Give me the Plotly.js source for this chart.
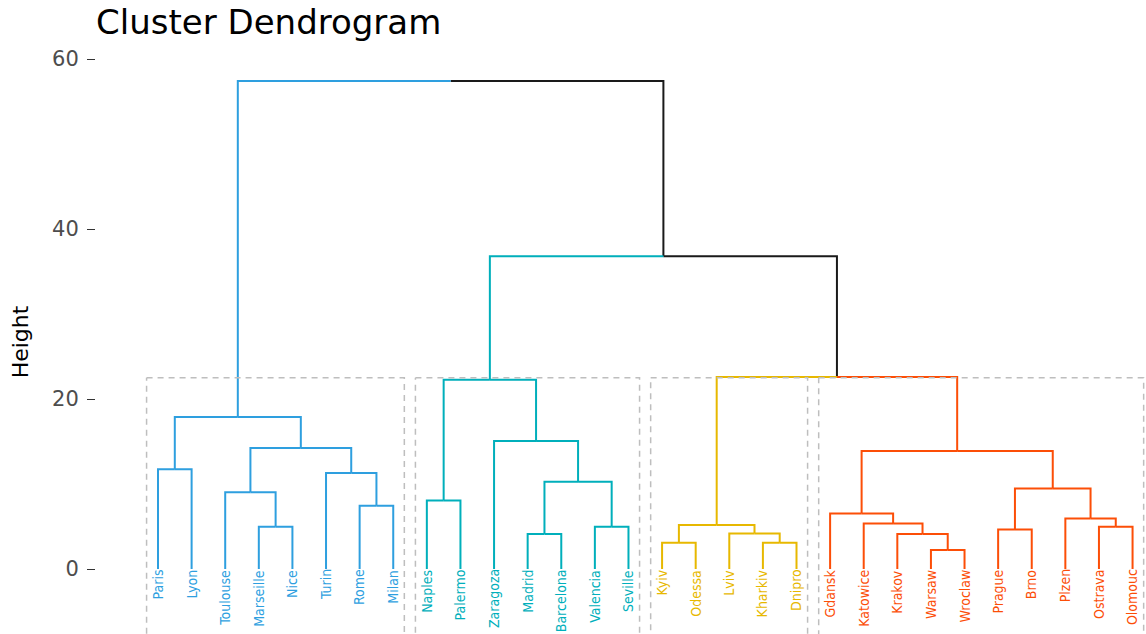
<!DOCTYPE html>
<html><head><meta charset="utf-8">
<script src="https://cdn.plot.ly/plotly-3.0.1.min.js"></script>
<style>html,body{margin:0;padding:0;background:#fff;overflow:hidden}#chart{width:1146px;height:634px}</style>
</head><body><div id="chart"></div>
<script>
// Leaves in dendrogram order
const leafLabels = ["Paris","Lyon","Toulouse","Marseille","Nice","Turin","Rome","Milan",
  "Naples","Palermo","Zaragoza","Madrid","Barcelona","Valencia","Seville",
  "Kyiv","Odessa","Lviv","Kharkiv","Dnipro",
  "Gdansk","Katowice","Krakov","Warsaw","Wroclaw","Prague","Brno","Plzen","Ostrava","Olomouc"];
const leafCluster = [1,1,1,1,1,1,1,1, 2,2,2,2,2,2,2, 3,3,3,3,3, 4,4,4,4,4,4,4,4,4,4];
const clusterColors = ["#2E9FDF","#00AFBB","#E7B800","#FC4E07"];
const branchBlack = "#1a1a1a";

// hclust-style merges: negative = leaf number (1-based), positive = earlier merge number
const mergeLeft   = [-24,-16,-19,-12,-23,-18,-26, -4,-14,-29,  2,-22,-28,-21, -7, -9, -3,  7,  4, -6, -1, 14, 17,-11, 21, 16, 11, 26, 25];
const mergeRight  = [-25,-17,-20,-13,  1,  3,-27, -5,-15,-30,  6,  5, 10, 12, -8,-10,  8, 13,  9, 15, -2, 18, 20, 19, 23, 24, 22, 27, 28];
const mergeHeight = [2.23,3.09,3.09,4.11,4.13,4.19,4.66,4.97,4.97,4.97,5.17,5.36,5.95,6.54,7.44,8.06,9.04,9.47,10.26,11.31,11.74,13.9,14.25,15.07,17.9,22.28,22.6,36.8,57.4];

const rectTop = 22.5;
const rectBottom = -14;
const yTicks = [0,20,40,60];

// ---- build geometry through the library's axes ----
function nodeInfo(ref, nodes){
  if (ref < 0){ const i = -ref; return {x:i, h:0, c:leafCluster[i-1]}; }
  return nodes[ref-1];
}
const nodes = [];
const segs = {0:{x:[],y:[]},1:{x:[],y:[]},2:{x:[],y:[]},3:{x:[],y:[]},4:{x:[],y:[]}};
for (let m=0; m<mergeLeft.length; m++){
  const L = nodeInfo(mergeLeft[m], nodes), R = nodeInfo(mergeRight[m], nodes);
  const h = mergeHeight[m];
  const x = (L.x + R.x)/2;
  const c = (L.c === R.c) ? L.c : 0;
  nodes.push({x:x, h:h, c:c});
  [L,R].forEach(ch => {
    const s = segs[ch.c];
    s.x.push(x, ch.x, ch.x, null);
    s.y.push(h, h, ch.h, null);
  });
}
const traces = [];
[0,1,2,3,4].forEach(k => {
  traces.push({type:'scatter', mode:'lines', x:segs[k].x, y:segs[k].y, hoverinfo:'skip',
    line:{color: k===0 ? branchBlack : clusterColors[k-1], width:2}, showlegend:false});
});
// cluster rectangles
const rx = [], ry = [];
for (let c=1; c<=4; c++){
  const idx = []; leafCluster.forEach((v,i)=>{ if(v===c) idx.push(i+1); });
  const xl = Math.min(...idx) - 0.34, xr = Math.max(...idx) + 0.33;
  rx.push(xl, xr, xr, xl, xl, null);
  ry.push(rectTop, rectTop, rectBottom, rectBottom, rectTop, null);
}
traces.push({type:'scatter', mode:'lines', x:rx, y:ry, hoverinfo:'skip', showlegend:false,
  line:{color:'#BEBEBE', width:1.5, dash:'6px,5px'}});

const annotations = leafLabels.map((t,i)=>({
  x:i+1, y:-0.05, xref:'x', yref:'y', text:t, showarrow:false, textangle:-90,
  xanchor:'center', yanchor:'top', borderpad:0, borderwidth:0,
  font:{family:'"DejaVu Sans Condensed", sans-serif', size:14, color:clusterColors[leafCluster[i]-1]}
}));

const layout = {
  width:1146, height:634,
  margin:{l:96, r:0, t:50, b:0},
  paper_bgcolor:'#fff', plot_bgcolor:'#fff',
  title:{text:'Cluster Dendrogram', font:{family:'DejaVu Sans', size:34, color:'#000'},
    x:0, xref:'paper', xanchor:'left', y:0.984, yref:'container', yanchor:'top'},
  xaxis:{range:[-0.845, 30.4], visible:false, fixedrange:true},
  yaxis:{range:[-7.64, 61.06], tickvals:yTicks, ticktext:yTicks.map(String), ticks:'outside', ticklen:8, tickwidth:1,
    tickcolor:'#333333', tickfont:{family:'DejaVu Sans', size:21, color:'#4D4D4D'}, ticklabelstandoff:4,
    showgrid:false, zeroline:false, showline:false, fixedrange:true,
    title:{text:'Height', font:{family:'DejaVu Sans', size:22, color:'#000'}, standoff:17}},
  annotations:annotations,
  showlegend:false
};
Plotly.newPlot('chart', traces, layout, {displayModeBar:false, staticPlot:true});
</script></body></html>
